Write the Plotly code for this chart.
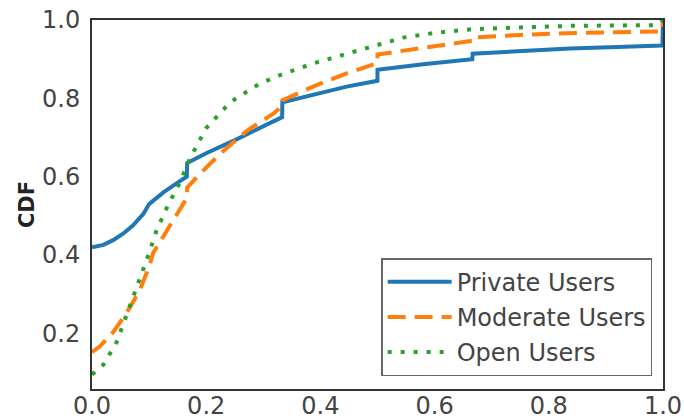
import plotly.graph_objects as go

# Private users (blue, solid)
private_x = [0.0, 0.02, 0.037, 0.055, 0.072, 0.09, 0.1, 0.125, 0.15, 0.166, 0.1667, 0.2, 0.254, 0.294, 0.333, 0.3334, 0.387, 0.446, 0.4999, 0.5, 0.58, 0.666, 0.6667, 0.75, 0.837, 0.92, 0.999, 1.0]
private_y = [0.42, 0.426, 0.438, 0.455, 0.476, 0.505, 0.53, 0.56, 0.585, 0.60, 0.635, 0.66, 0.696, 0.724, 0.752, 0.79, 0.81, 0.83, 0.845, 0.873, 0.887, 0.90, 0.914, 0.921, 0.927, 0.931, 0.935, 1.0]

# Moderate users (orange, dashed)
moderate_x = [0.0, 0.014, 0.037, 0.061, 0.084, 0.1, 0.107, 0.124, 0.145, 0.166, 0.1667, 0.189, 0.224, 0.271, 0.317, 0.333, 0.3334, 0.387, 0.446, 0.4999, 0.5, 0.58, 0.666, 0.6667, 0.75, 0.85, 0.999, 1.0]
moderate_y = [0.152, 0.167, 0.203, 0.253, 0.311, 0.37, 0.405, 0.446, 0.495, 0.545, 0.572, 0.607, 0.658, 0.717, 0.76, 0.78, 0.795, 0.83, 0.864, 0.89, 0.912, 0.93, 0.947, 0.955, 0.962, 0.967, 0.971, 1.0]

# Open users (green, dotted)
open_x = [0.0, 0.02, 0.043, 0.066, 0.084, 0.1, 0.113, 0.133, 0.154, 0.172, 0.2, 0.242, 0.294, 0.334, 0.387, 0.446, 0.5, 0.545, 0.6, 0.662, 0.75, 0.837, 0.99, 1.0]
open_y = [0.095, 0.12, 0.177, 0.268, 0.337, 0.405, 0.463, 0.527, 0.585, 0.648, 0.724, 0.79, 0.838, 0.862, 0.889, 0.914, 0.937, 0.955, 0.967, 0.976, 0.981, 0.985, 0.987, 1.0]

x_ticks = [0.0, 0.2, 0.4, 0.6, 0.8, 1.0]
y_ticks = [0.2, 0.4, 0.6, 0.8, 1.0]

fig = go.Figure()
fig.add_trace(go.Scatter(x=private_x, y=private_y, mode="lines", name="Private Users",
                         legendgroup="a",
                         line=dict(color="#1f77b4", width=4)))
fig.add_trace(go.Scatter(x=moderate_x, y=moderate_y, mode="lines", name="Moderate Users",
                         legendgroup="b",
                         line=dict(color="#ff7f0e", width=4, dash="18px,9px")))
fig.add_trace(go.Scatter(x=open_x, y=open_y, mode="lines", name="Open Users",
                         legendgroup="c",
                         line=dict(color="#2ca02c", width=4, dash="4px,9px")))

axis_common = dict(
    showgrid=False, zeroline=False, showline=True, mirror=True,
    linecolor="#333333", linewidth=2, automargin=False,
    tickfont=dict(family="DejaVu Sans", size=24, color="#444444"),
)

fig.update_xaxes(range=[0, 1.0], tickvals=x_ticks, ticktext=[f"{v:.1f}" for v in x_ticks],
                 ticks="", ticklabelstandoff=-6, **axis_common)
fig.update_yaxes(range=[0.058, 1.0], tickvals=y_ticks, ticktext=[f"{v:.1f}" for v in y_ticks],
                 ticks="outside", ticklen=5, tickwidth=1, tickcolor="rgba(0,0,0,0)",
                 title=dict(text="<b>CDF</b>", font=dict(family="DejaVu Sans", size=21, color="#222222"), standoff=2),
                 **axis_common)

fig.update_layout(
    width=684, height=419,
    margin=dict(l=92, r=21, t=20, b=30),
    plot_bgcolor="white", paper_bgcolor="white",
    legend=dict(
        x=0.981, y=0.035, xanchor="right", yanchor="bottom",
        bgcolor="white", bordercolor="#666666", borderwidth=1.5,
        font=dict(family="DejaVu Sans", size=24, color="#444444"),
        traceorder="grouped", tracegroupgap=1,
        itemwidth=64,
    ),
)

fig.write_html("out.html")
